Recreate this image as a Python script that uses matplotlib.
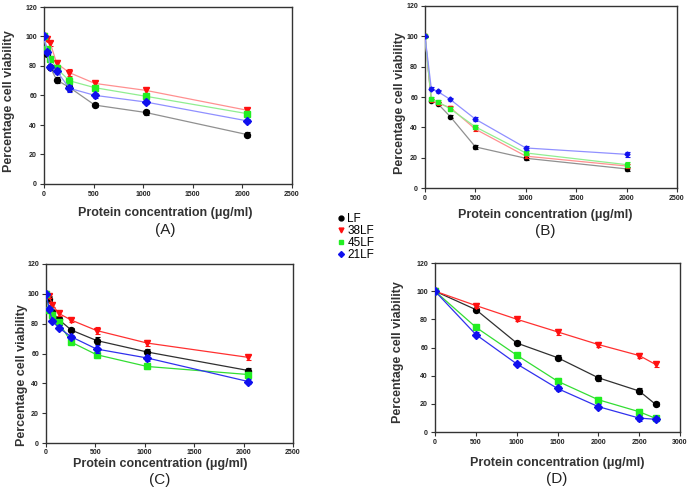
import matplotlib
matplotlib.use("Agg")
import matplotlib.pyplot as plt
from matplotlib.lines import Line2D

plt.rcParams['font.family'] = ['Liberation Sans', 'DejaVu Sans']

series_names = ["LF", "38LF", "45LF", "21LF"]

# Panel A
xA = [0, 32, 64, 128, 256, 512, 1024, 2048]
A_LF = [100, 88, 79, 70.5, 65.5, 53.5, 48.5, 33.5]
A_38 = [100, 98.5, 95.3, 81.8, 75.5, 68.2, 63.5, 50]
A_45 = [100, 91.2, 85, 78.4, 70, 65.3, 59.5, 47.7]
A_21 = [100, 89.4, 79.3, 76.6, 64.9, 60.1, 55.6, 42.8]
A_err = [0.5, 1.5, 1.5, 2, 2.5, 1.5, 1.5, 1.5]

# Panel B
xB = [0, 62.5, 125, 250, 500, 1000, 2000]
B_LF = [100, 57.5, 55.7, 47.1, 27.1, 19.6, 12.6]
B_38 = [100, 58, 56, 53, 38.8, 21, 14.5]
B_45 = [100, 58.8, 57, 52.2, 40.3, 23.1, 15.4]
B_21 = [100, 65.6, 63.7, 58.4, 45.4, 26.4, 22.2]
B_err = [0.5, 1, 1, 1.2, 1.2, 1.2, 1.5]

# Panel C
xC = [0, 32, 64, 128, 256, 512, 1024, 2048]
C_LF = [100, 96.8, 87.6, 82.9, 75.7, 68.7, 61, 48.6]
C_38 = [100, 98.6, 92.8, 86.9, 82.4, 75.4, 67, 57.4]
C_45 = [100, 89, 85.6, 81, 67.6, 59.2, 51.3, 45.9]
C_21 = [100, 90, 81.8, 77.3, 71.2, 63, 57, 41.2]
C_err = [0.5, 1.5, 1.5, 1.5, 1.5, 2.5, 2, 1.5]

# Panel D
xD = [0, 500, 1000, 1500, 2000, 2500, 2700]
D_LF = [100, 86.9, 63.2, 52.8, 38.5, 29.1, 19.7]
D_38 = [100, 89.8, 80.1, 71.1, 62.1, 54.3, 48]
D_45 = [100, 74.4, 54.6, 36.1, 22.9, 14.4, 9.7]
D_21 = [100, 69.2, 48.4, 30.9, 18, 9.9, 9]
D_err = [0.5, 1.5, 1.2, 2, 2, 1.8, 1.5]

panel_letters = ["(A)", "(B)", "(C)", "(D)"]
xlabel = "Protein concentration (\u03bcg/ml)"
ylabel = "Percentage cell viability"

markers = ["o", "v", "s", "D"]
mcolors = ["#000000", "#ff1010", "#22ee22", "#1010ee"]
pale_lines = ["#909090", "#ff9090", "#90ee90", "#9090ff"]
dark_lines = ["#303030", "#ff3030", "#33dd33", "#3030ee"]

W, H = 689, 494
fig = plt.figure(figsize=(W / 100, H / 100), dpi=100)

def box(l, r, t, b):
    return [l / W, 1 - b / H, (r - l) / W, (b - t) / H]

def ftext(x, y, s, **kw):
    fig.text(x / W, 1 - y / H, s, ha="center", va="center", **kw)

panels = [
    (box(44, 292, 7, 184), xA, [A_LF, A_38, A_45, A_21], A_err, 2500, pale_lines, 4.3),
    (box(425, 677, 6, 188), xB, [B_LF, B_38, B_45, B_21], B_err, 2500, pale_lines, 3.0),
    (box(46, 293, 264, 443), xC, [C_LF, C_38, C_45, C_21], C_err, 2500, dark_lines, 4.3),
    (box(435, 680, 263, 432), xD, [D_LF, D_38, D_45, D_21], D_err, 3000, dark_lines, 4.3),
]

# (ylabel x, ylabel y, xlabel x, xlabel y, letter y)
label_pos = [
    (9, 101, 165, 213, 230),
    (400, 103, 545, 215, 231),
    (22, 375, 160, 464, 480),
    (398, 352, 557, 463, 479),
]

for i, (rect, xs, ys, err, xmax, lcols, ms) in enumerate(panels):
    ax = fig.add_axes(rect)
    for j in range(4):
        ax.errorbar(xs, ys[j], yerr=err, color=lcols[j], lw=0.9,
                    marker=markers[j], markersize=ms if markers[j] != "D" else ms * 0.85,
                    markerfacecolor=mcolors[j], markeredgecolor=mcolors[j],
                    ecolor=mcolors[j], elinewidth=0.8, capsize=1.8, capthick=0.8,
                    zorder=3 + j)
    ax.set_xlim(0, xmax)
    ax.set_ylim(0, 120)
    ax.set_xticks(range(0, xmax + 1, 500))
    ax.set_yticks(range(0, 121, 20))
    for sp in ax.spines.values():
        sp.set_color("#333333")
        sp.set_linewidth(1.0)
    ax.tick_params(direction="out", length=3, width=0.8, labelsize=5,
                   colors="#333333", pad=2)
    if i == 2:
        ax.tick_params(axis="x", pad=1)
    for lab in ax.get_xticklabels() + ax.get_yticklabels():
        lab.set_fontweight("bold")
        lab.set_color("#222222")
    yx, yy, xx, xy, ly = label_pos[i]
    ftext(yx, yy, ylabel, rotation=90, fontsize=9, fontweight="bold", color="#333333")
    ftext(xx, xy, xlabel, fontsize=9, fontweight="bold", color="#333333")
    ftext(xx, ly, panel_letters[i], fontsize=11, color="#222222")

handles = [Line2D([], [], linestyle="none", marker=markers[j], color=mcolors[j],
                  markersize=3.5 if markers[j] != "D" else 3)
           for j in range(4)]
fig.legend(handles, series_names, loc="upper left", bbox_to_anchor=(332 / W, 1 - 207 / H),
           frameon=False, fontsize=8.5, handlelength=0.5, handletextpad=0.3,
           labelspacing=0.0, borderpad=0)

fig.savefig("out.png", dpi=100)
